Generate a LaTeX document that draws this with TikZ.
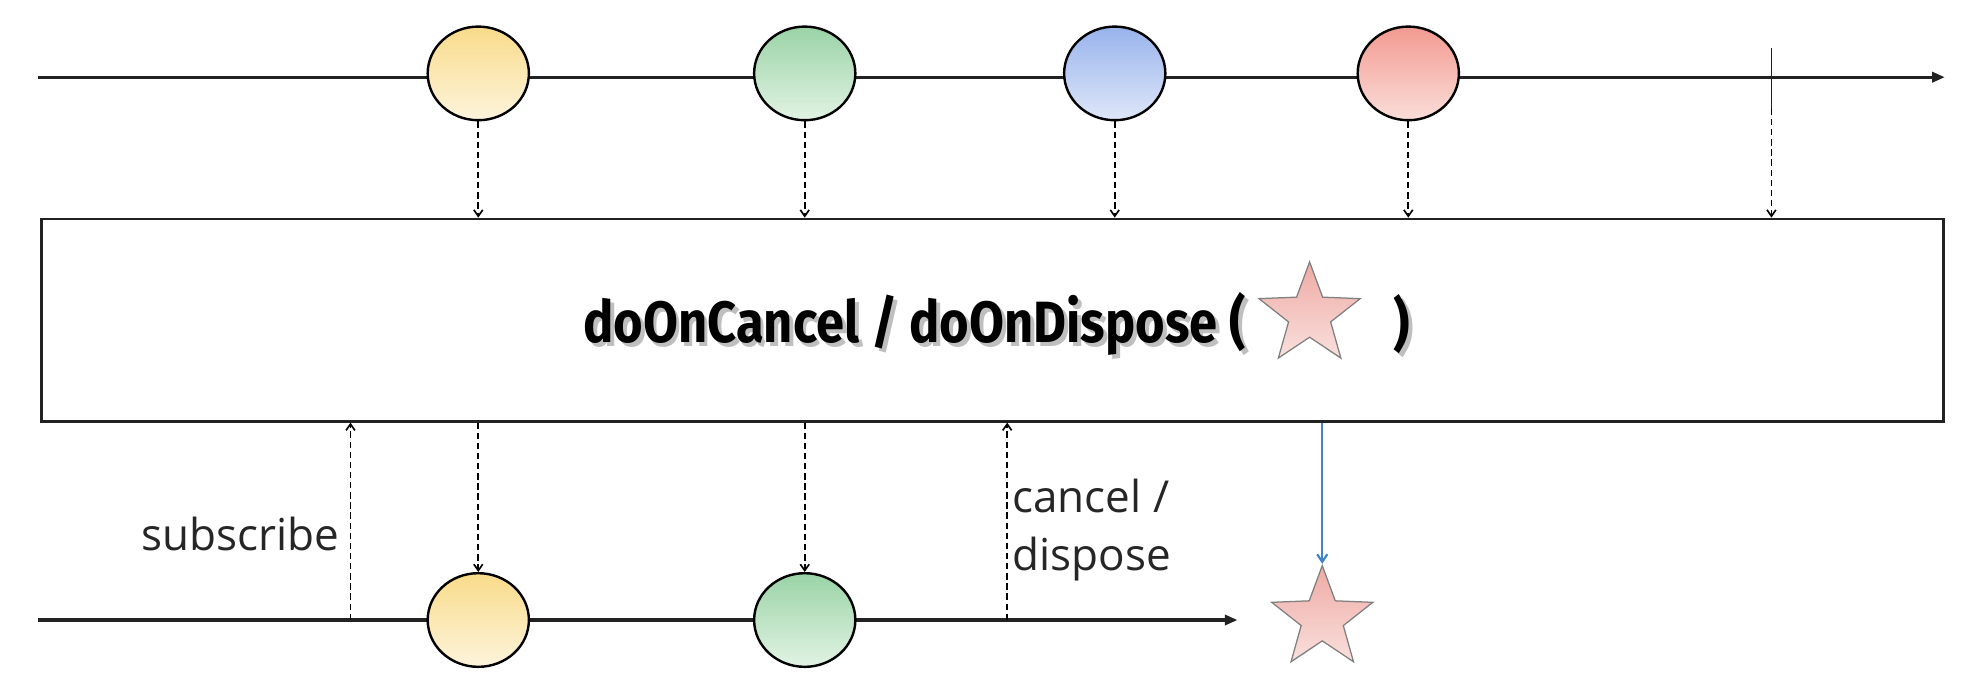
\documentclass[tikz,border=0pt]{standalone}
\usepackage{fontspec}
\usepackage{graphicx}
\usetikzlibrary{shapes.geometric,arrows.meta}
\setmainfont{Open Sans}
\newfontfamily\titlefont{Fira Sans}
\definecolor{yelT}{HTML}{F8DB8A}\definecolor{yelB}{HTML}{FDF4DC}
\definecolor{grnT}{HTML}{9AD3A6}\definecolor{grnB}{HTML}{E2F3E4}
\definecolor{bluT}{HTML}{98B3EC}\definecolor{bluB}{HTML}{DFE7F9}
\definecolor{redT}{HTML}{F29A90}\definecolor{redB}{HTML}{FBDEDA}
\definecolor{strT}{HTML}{EFAAA4}\definecolor{strB}{HTML}{F9E0DD}
\definecolor{bluearr}{HTML}{3C82CC}
\definecolor{linec}{HTML}{222222}
\begin{document}
\begin{tikzpicture}[x=1pt,y=-1pt,
  marble/.style={ellipse, draw=black, line width=1.9pt, minimum width=80pt, minimum height=74pt, inner sep=0pt},
  yel/.style={marble, top color=yelT, bottom color=yelB},
  grn/.style={marble, top color=grnT, bottom color=grnB},
  blu/.style={marble, top color=bluT, bottom color=bluB},
  rdd/.style={marble, top color=redT, bottom color=redB},
  starshape/.style={star, star points=5, star point ratio=2.4, minimum size=84pt, inner sep=0pt, draw=black!50, line width=1pt, top color=strT, bottom color=strB},
  evline/.style={draw=linec, line width=2.4pt, -{Triangle[length=10pt,width=8pt]}},
  flow/.style={draw=black, line width=1.3pt, dash pattern=on 5pt off 3pt, -{Straight Barb[length=5pt,width=7pt]}},
  res/.style={draw=bluearr, line width=1.7pt, -{Straight Barb[length=6pt,width=8pt]}},
  lbl/.style={font=\fontsize{34.8}{46}\selectfont, text=black!85, inner sep=0pt},
  ttl/.style={font=\titlefont\bfseries\fontsize{46}{50}\selectfont, inner sep=0pt}
]
\useasboundingbox (0,0) rectangle (1568,542);
% operator box
\node[draw=linec, line width=2pt, minimum width=1503pt, minimum height=160pt, inner sep=0pt] (op) at (784.5,253) {};
% title with shadow
\node[ttl, anchor=east, text=black!25] (ttlsh) at (988,259) {\scalebox{0.87}[1]{doOnCancel / doOnDispose (}};
\node[ttl, anchor=east] (ttlA) at (985,256) {\scalebox{0.87}[1]{doOnCancel / doOnDispose (}};
\node[ttl, text=black!25] (ttlBsh) at (1111,259) {\scalebox{0.87}[1]{)}};
\node[ttl] (ttlB) at (1108,256) {\scalebox{0.87}[1]{)}};
\node[starshape] (s1) at (1035,249) {};
% top timeline
\coordinate (t0) at (30,61);
\coordinate (t1) at (1537,61);
\draw[evline] (t0) -- (t1);
\node[yel] (m1) at (378,58) {};
\node[grn] (m2) at (636,58) {};
\node[blu] (m3) at (881,58) {};
\node[rdd] (m4) at (1113,58) {};
\coordinate (tickT) at (1400,38);
\coordinate (tickB) at (1400,86);
\draw[linec, line width=1.4pt] (tickT) -- (tickB);
\foreach \m in {m1,m2,m3,m4}{\draw[flow] (\m.south) -- (\m.south |- op.north);}
\draw[flow] (tickB) -- (tickB |- op.north);
% bottom timeline
\coordinate (b0) at (30,490);
\coordinate (b1) at (978,490);
\draw[evline] (b0) -- (b1);
\node[yel] (n1) at (378,490) {};
\node[grn] (n2) at (636,490) {};
\foreach \m in {n1,n2}{\draw[flow] (\m.north |- op.south) -- (\m.north);}
\coordinate (sub) at (277,490);
\coordinate (can) at (796,490);
\draw[flow] (sub) -- (sub |- op.south);
\draw[flow] (can) -- (can |- op.south);
\node[lbl, anchor=east] (subl) at (268,422) {subscribe};
\node[lbl, anchor=west, align=left] (canl) at (800,419) {cancel /\\dispose};
% result star
\node[starshape] (s2) at (1045,489) {};
\draw[res] (s2.north |- op.south) -- (s2.north);
\end{tikzpicture}
\end{document}
